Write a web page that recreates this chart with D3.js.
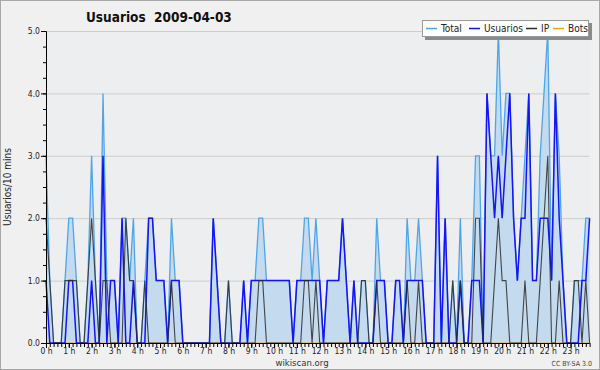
<!DOCTYPE html>
<html><head><meta charset="utf-8">
<script src="https://cdn.jsdelivr.net/npm/d3@7/dist/d3.min.js"></script>
<style>
body{margin:0;background:#fff}
text{font-family:"DejaVu Sans Condensed","DejaVu Sans",sans-serif;font-stretch:condensed}
</style>
</head><body>
<svg id="c" width="600" height="370"></svg>
<script>
const title = "Usuarios  2009-04-03";
const yLabel = "Usuarios/10 mins";
const hourLabels = ["0 h","1 h","2 h","3 h","4 h","5 h","6 h","7 h","8 h","9 h","10 h","11 h","12 h","13 h","14 h","15 h","16 h","17 h","18 h","19 h","20 h","21 h","22 h","23 h"];
const yTicks = [0, 1, 2, 3, 4, 5];
const seriesNames = ["Total", "Usuarios", "IP", "Bots"];
// values every 10 minutes, 144 per day
const total = [
 3,1,0,0,0,1,2,2,1,0,0,1,3,1,0,4,1,1,1,0,2,2,1,2,
 0,0,1,2,2,1,1,1,0,2,1,1,0,0,0,0,0,0,0,0,2,1,0,0,
 1,0,0,0,1,0,1,1,2,2,1,1,1,1,1,1,1,0,1,1,2,2,1,2,
 1,0,1,1,1,1,2,1,0,1,0,1,1,0,0,2,1,1,0,0,1,1,0,2,
 1,1,2,1,0,0,0,3,0,2,0,1,0,2,0,0,1,3,3,0,4,3,3,5,
 3,4,4,2,1,2,3,4,1,1,3,4,5,1,4,3,1,0,0,1,1,1,2,2];
const usuarios = [
 1,0,0,0,0,0,1,1,0,0,0,0,1,0,0,3,0,1,1,0,2,0,0,1,
 0,0,0,2,2,1,1,1,0,1,1,1,0,0,0,0,0,0,0,0,2,1,0,0,
 0,0,0,0,1,0,1,1,1,1,1,1,1,1,1,1,1,0,1,1,1,1,1,1,
 1,0,1,1,1,1,2,1,0,1,0,0,0,0,0,1,1,1,0,0,1,1,0,1,
 1,1,1,1,0,0,0,3,0,2,0,0,0,1,0,0,1,1,1,0,4,3,2,3,
 2,3,4,2,1,2,2,4,1,1,2,2,2,1,4,2,1,0,0,0,0,1,1,2];
const ip = [
 2,1,0,0,0,1,1,1,1,0,0,1,2,1,0,1,1,0,0,0,0,2,1,1,
 0,0,1,0,0,0,0,0,0,1,0,0,0,0,0,0,0,0,0,0,0,0,0,0,
 1,0,0,0,0,0,0,0,1,1,0,0,0,0,0,0,0,0,0,0,1,1,0,1,
 0,0,0,0,0,0,0,0,0,0,0,1,1,0,0,1,0,0,0,0,0,0,0,1,
 0,0,1,0,0,0,0,0,0,0,0,1,0,1,0,0,0,2,2,0,0,0,1,2,
 1,1,0,0,0,0,1,0,0,0,1,2,3,0,0,1,0,0,0,1,1,0,1,0];
const bots = [
 0,0,0,0,0,0,0,0,0,0,0,0,0,0,0,0,0,0,0,0,0,0,0,0,
 0,0,0,0,0,0,0,0,0,0,0,0,0,0,0,0,0,0,0,0,0,0,0,0,
 0,0,0,0,0,0,0,0,0,0,0,0,0,0,0,0,0,0,0,0,0,0,0,0,
 0,0,0,0,0,0,0,0,0,0,0,0,0,0,0,0,0,0,0,0,0,0,0,0,
 0,0,0,0,0,0,0,0,0,0,0,0,0,0,0,0,0,0,0,0,0,0,0,0,
 0,0,0,0,0,0,0,0,0,0,0,0,0,0,0,0,0,0,0,0,0,0,0,0];

const colors = {Total:"#4ea5ec", Usuarios:"#1414f5", IP:"#2a2a2a", Bots:"#ffa020"};
const svg = d3.select("#c");
const L = 46, R = 589.6, T = 31, B = 343;
const x = d3.scaleLinear().domain([0, 143]).range([L, R]);
const y = d3.scaleLinear().domain([0, 5]).range([B, T]);

svg.append("rect").attr("x",0.5).attr("y",0.5).attr("width",599).attr("height",369)
  .attr("fill","#f0f0f0").attr("stroke","#a8a8a8");
svg.append("rect").attr("x",L).attr("y",T).attr("width",R-L).attr("height",B-T).attr("fill","#eceef0");

// grid
svg.append("g").selectAll("line").data(yTicks.slice(1)).join("line")
  .attr("x1",L).attr("x2",R).attr("y1",d=>y(d)+0.5).attr("y2",d=>y(d)+0.5)
  .attr("stroke","#cdcdcd").attr("stroke-width",1);

const idx = d3.range(total.length);
const area = d3.area().x(i=>x(i)).y0(y(0)).y1(i=>y(total[i]));
svg.append("path").datum(idx).attr("d",area).attr("fill","#c4dbef");
const line = arr => d3.line().x(i=>x(i)).y(i=>y(arr[i]));
svg.append("path").datum(idx).attr("d",line(total)).attr("fill","none").attr("stroke",colors.Total).attr("stroke-width",1.3);
svg.append("path").datum(idx).attr("d",line(bots)).attr("fill","none").attr("stroke",colors.Bots).attr("stroke-width",1.2);
svg.append("path").datum(idx).attr("d",line(usuarios)).attr("fill","none").attr("stroke",colors.Usuarios).attr("stroke-width",1.5);
svg.append("path").datum(idx).attr("d",line(ip)).attr("fill","none").attr("stroke",colors.IP).attr("stroke-width",1.1).attr("stroke-opacity",0.85);

// y axis
const yMinor = d3.range(0, 5.001, 0.25);
const yAxis = d3.axisLeft(y).tickValues(yTicks).tickFormat(d3.format(".1f")).tickSize(5).tickPadding(1);
const gy = svg.append("g").attr("transform",`translate(${L},0)`).call(yAxis);
gy.selectAll("line").attr("stroke","#000");
gy.select(".domain").attr("stroke","#000");
gy.selectAll("text").attr("font-size","8.5px").attr("fill","#222").style("font-family",'"DejaVu Sans Condensed","DejaVu Sans",sans-serif');
svg.append("g").attr("transform",`translate(${L},0)`).call(d3.axisLeft(y).tickValues(yMinor).tickSize(3).tickFormat(""))
  .call(g=>g.select(".domain").remove()).selectAll("line").attr("stroke","#000");

// x axis
const xMinor = d3.range(0, 144);
svg.append("g").attr("transform",`translate(0,${B})`).call(d3.axisBottom(x).tickValues(xMinor).tickSize(4).tickFormat(""))
  .call(g=>g.select(".domain").attr("stroke","#000").attr("d",`M${L},0.5H${R}`)).selectAll("line").attr("stroke","#000");
const gx = svg.append("g").attr("transform",`translate(0,${B})`)
  .call(d3.axisBottom(x).tickValues(d3.range(0,144,6)).tickSize(5).tickPadding(0).tickFormat((d,i)=>hourLabels[i]));
gx.select(".domain").remove();
gx.selectAll("line").attr("stroke","#000");
gx.selectAll("text").attr("font-size","8.5px").attr("fill","#222").style("font-family",'"DejaVu Sans Condensed","DejaVu Sans",sans-serif');

// title
svg.append("text").attr("x",86).attr("y",22).attr("font-size","13.5px").attr("font-weight","bold")
  .style("white-space","pre").attr("fill","#111").text(title);
// y label
svg.append("text").attr("transform","translate(11,187) rotate(-90)").attr("text-anchor","middle")
  .attr("font-size","10px").attr("fill","#222").text(yLabel);
// footer
svg.append("text").attr("x",302).attr("y",366).attr("text-anchor","middle").attr("font-size","9.5px").attr("fill","#333").text("wikiscan.org");
svg.append("text").attr("x",592).attr("y",366).attr("text-anchor","end").attr("font-size","7px").attr("fill","#444").text("CC BY-SA 3.0");

// legend
const lg = svg.append("g");
lg.append("rect").attr("x",425).attr("y",23).attr("width",167).attr("height",17).attr("fill","#8a8a8a");
lg.append("rect").attr("x",422.5).attr("y",20.5).attr("width",166).attr("height",16).attr("fill","#fff").attr("stroke","#9a9a9a");
const lx = [426, 469, 526, 553];
seriesNames.forEach((n,i)=>{
  lg.append("line").attr("x1",lx[i]).attr("x2",lx[i]+11).attr("y1",28.5).attr("y2",28.5)
    .attr("stroke",colors[n]).attr("stroke-width",1.5);
  lg.append("text").attr("x",lx[i]+15).attr("y",32).attr("font-size","10px").attr("fill","#222").text(n);
});
</script>
</body></html>
